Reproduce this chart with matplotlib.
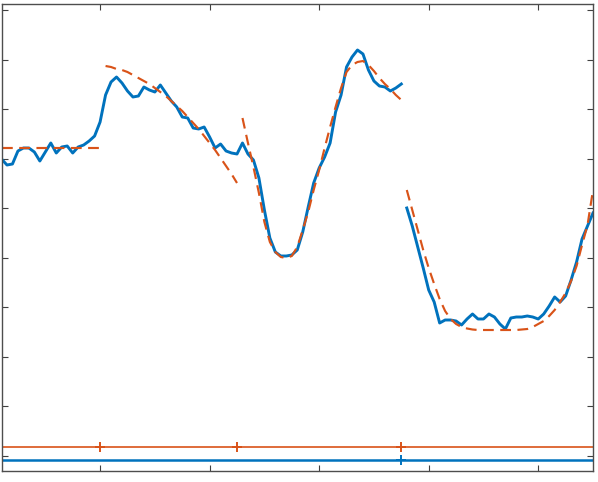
import numpy as np
import matplotlib
matplotlib.use("Agg")
import matplotlib.pyplot as plt

# sample index
x = np.arange(2, 111)

# measured signal (two pieces, split after sample 75)
signal = [297, 291, 292, 305, 308, 308, 304, 295, 304, 313,
          303, 309, 310, 303, 309, 311, 315, 320, 334, 361,
          374, 379, 373, 365, 359, 360, 369, 366, 364, 371,
          363, 355, 349, 339, 338, 328, 327, 329, 319, 308,
          312, 305, 303, 302, 313, 302, 296, 278, 246, 218,
          204, 200, 200, 201, 206, 224, 249, 273, 288, 299,
          313, 344, 361, 389, 399, 406, 402, 386, 375, 370,
          369, 365, 368, 372,
          248, 230, 209, 188, 166, 154, 133, 136, 136, 135,
          131, 137, 142, 137, 137, 142, 139, 132, 127, 138,
          139, 139, 140, 139, 137, 142, 150, 159, 154, 160,
          176, 194, 217, 230, 243]

# piecewise fit segments
seg_bounds = [(2, 20), (21, 45), (46, 75), (76, 110)]
fit1 = [308] * 19
fit2 = [390, 389, 387, 386, 384, 381, 378, 375, 372, 368,
        364, 360, 355, 350, 345, 339, 333, 327, 320, 313,
        306, 298, 290, 282, 273]
fit3 = [338, 313, 289, 263, 234, 214, 204, 199, 198, 200,
        209, 226, 244, 266, 286, 308, 329, 349, 368, 384,
        391, 394, 395, 391, 385, 378, 372, 367, 361, 356]
fit4 = [266, 246, 226, 206, 188, 172, 157, 145, 137, 132,
        129, 127.5, 126.5, 126, 126, 126, 126, 126, 126, 126,
        126, 126.5, 127, 129, 132, 135, 140, 146, 154, 163,
        175, 190, 211, 231, 266]
fits = [fit1, fit2, fit3, fit4]

# change-point indicator lines
fit_breaks = [20, 45, 75]
signal_breaks = [75]
fit_level = 9
signal_level = -4

blue = "#0072BD"
orange = "#D95319"

fig = plt.figure(figsize=(5.98, 4.82), dpi=100)
ax = fig.add_axes([1.5 / 598, 1 - 471 / 482, 591.5 / 598, 467 / 482])

xs = np.array(x)
ys = np.array(signal, dtype=float)
split = 75
m = xs <= split
ax.plot(xs[m], ys[m], color=blue, lw=2.1, solid_joinstyle="round")
ax.plot(xs[~m], ys[~m], color=blue, lw=2.1, solid_joinstyle="round")

for (a, b), f in zip(seg_bounds, fits):
    ax.plot(np.arange(a, b + 1), f, color=orange, lw=1.55,
            dashes=(5.0, 3.0))

ax.plot([x[0], x[-1]], [fit_level, fit_level], color=orange, lw=1.2)
ax.plot(fit_breaks, [fit_level] * len(fit_breaks), ls="none", marker="+",
        ms=7.5, mew=1.4, color=orange)
ax.plot([x[0], x[-1]], [signal_level, signal_level], color=blue, lw=1.8)
ax.plot(signal_breaks, [signal_level] * len(signal_breaks), ls="none",
        marker="+", ms=7.5, mew=1.4, color=blue)

ax.set_xlim(2, 110)
ax.set_ylim(-15, 452)
ax.set_xticks([20, 40, 60, 80, 100])
ax.set_yticks(np.linspace(0, 446, 10))
ax.tick_params(direction="in", length=4.5, width=0.8, color="#404040",
               top=True, right=True, labelbottom=False, labelleft=False)
for s in ax.spines.values():
    s.set_color("#4d4d4d")
    s.set_linewidth(1.0)

fig.savefig("out.png", dpi=100)
